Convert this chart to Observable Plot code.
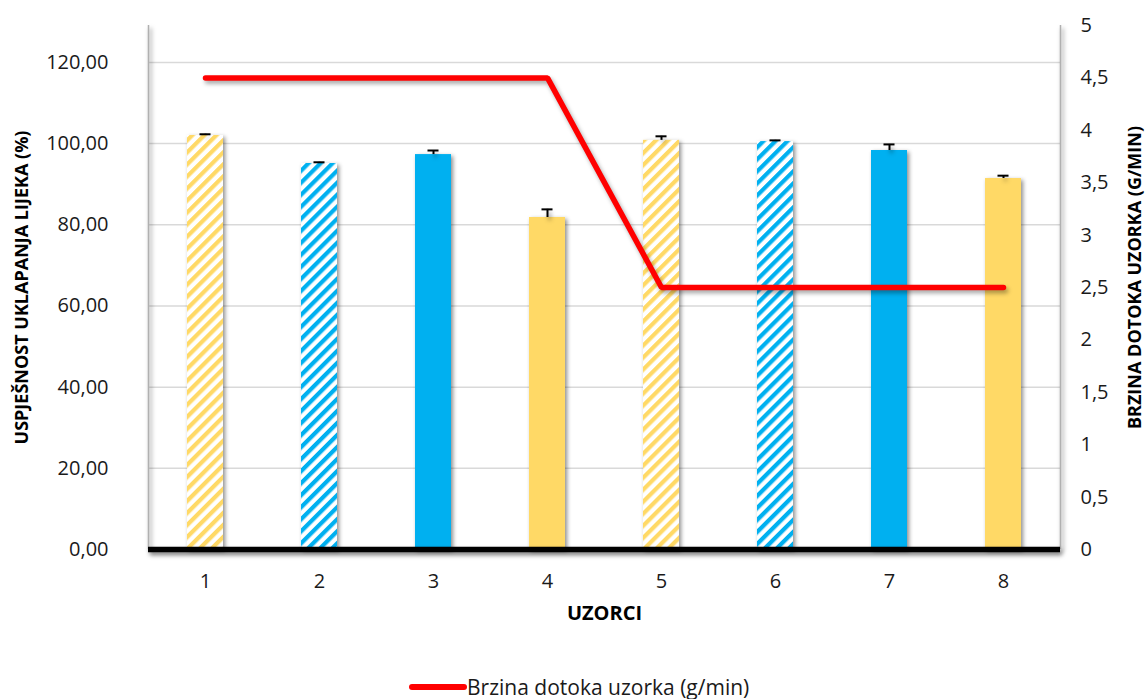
<!DOCTYPE html>
<html>
<head>
<meta charset="utf-8">
<script src="https://cdn.jsdelivr.net/npm/d3@7"></script>
<script src="https://cdn.jsdelivr.net/npm/@observablehq/plot@0.6"></script>
<style>
  body { margin: 0; background: #fff; font-family: "Open Sans", Lato, sans-serif; }
  #wrap { position: relative; width: 1148px; height: 699px; }
  #legend { position: absolute; left: 408px; top: 671px; height: 32px; display: flex; align-items: center; font-size: 21px; color: #1a1a1a; white-space: nowrap; }
</style>
</head>
<body>
<div id="wrap">
  <div id="chart"></div>
  <div id="legend">
    <svg width="59" height="10"><line x1="4" y1="5" x2="56" y2="5" stroke="#ff0000" stroke-width="6" stroke-linecap="round"/></svg>
    <span>Brzina dotoka uzorka (g/min)</span>
  </div>
</div>
<script>
// ---- data ----
const samples = [1, 2, 3, 4, 5, 6, 7, 8];
const encapsulation = [102.0, 95.1, 97.3, 81.8, 100.8, 100.5, 98.3, 91.4];
const errors = [0.3, 0.3, 1.0, 2.0, 1.0, 0.3, 1.5, 0.7];
const flowRate = [4.5, 4.5, 4.5, 4.5, 2.5, 2.5, 2.5, 2.5];
const barStyle = ["hatchYellow", "hatchBlue", "blue", "yellow", "hatchYellow", "hatchBlue", "blue", "yellow"];
const leftTicks = [0, 20, 40, 60, 80, 100, 120];
const rightTicks = [0, 0.5, 1, 1.5, 2, 2.5, 3, 3.5, 4, 4.5, 5];
const leftTitle = "USPJEŠNOST UKLAPANJA LIJEKA (%)";
const rightTitle = "BRZINA DOTOKA UZORKA (G/MIN)";
const xTitle = "UZORCI";

const leftMax = 129.1;
const rightMax = 5;
const K = leftMax / rightMax;

const fillFor = {
  hatchYellow: "url(#hatchYellow)",
  hatchBlue: "url(#hatchBlue)",
  blue: "#00b0f0",
  yellow: "#ffd966"
};

const rows = samples.map((s, i) => ({
  sample: s,
  value: encapsulation[i],
  err: errors[i],
  top: encapsulation[i] + errors[i],
  rate: flowRate[i],
  fill: fillFor[barStyle[i]]
}));

const fmtLeft = d => d.toFixed(2).replace(".", ",");
const fmtRight = d => String(Math.round(d / K * 10) / 10).replace(".", ",");

const plot = Plot.plot({
  width: 1148,
  height: 665,
  marginLeft: 148,
  marginRight: 88,
  marginTop: 25,
  marginBottom: 116,
  style: { fontFamily: "'Open Sans', Lato, sans-serif", fontSize: "20px", color: "#1a1a1a", background: "#fff" },
  x: { type: "band", domain: samples, paddingInner: 0.684, paddingOuter: 0.342, round: false },
  y: { domain: [0, leftMax] },
  color: { type: "identity" },
  marks: [
    Plot.gridY(leftTicks, { stroke: "#d9d9d9", strokeOpacity: 1, strokeWidth: 1.5 }),
    Plot.ruleX([samples[0]], { dx: -57, stroke: "#b0b0b0", strokeWidth: 1.5 }),
    Plot.ruleX([samples[samples.length - 1]], { dx: 57, stroke: "#b0b0b0", strokeWidth: 1.5 }),
    Plot.barY(rows, { x: "sample", y: "value", fill: "fill" }),
    Plot.ruleX(rows, { x: "sample", y1: "value", y2: "top", stroke: "#000", strokeWidth: 2 }),
    Plot.tickY(rows, { x: "sample", y: "top", stroke: "#000", strokeWidth: 2, insetLeft: 12.5, insetRight: 12.5 }),
    Plot.lineY(rows, { x: "sample", y: d => d.rate * K, stroke: "#ff0000", strokeWidth: 5.5, strokeLinejoin: "miter" }),
    Plot.ruleY([0], { stroke: "#000", strokeWidth: 5.5 }),
    Plot.axisY(leftTicks, { anchor: "left", tickSize: 0, tickPadding: 40, tickFormat: fmtLeft, label: null }),
    Plot.axisY(rightTicks.map(v => v * K), { anchor: "right", tickSize: 0, tickPadding: 20, tickFormat: fmtRight, label: null }),
    Plot.axisX({ tickSize: 0, tickPadding: 24, label: null }),
    Plot.text([leftTitle], { frameAnchor: "left", textAnchor: "middle", dx: -126, rotate: -90, fontWeight: "bold", fontSize: 18, fill: "#000" }),
    Plot.text([rightTitle], { frameAnchor: "right", textAnchor: "middle", dx: 75, dy: -10, rotate: -90, fontWeight: "bold", fontSize: 18, fill: "#000" }),
    Plot.text([xTitle], { frameAnchor: "bottom", dy: 70, fontWeight: "bold", fontSize: 20, fill: "#000" })
  ]
});

// hatch patterns
const svg = d3.select(plot);
const defs = svg.insert("defs", ":first-child");
[["hatchYellow", "#ffd966"], ["hatchBlue", "#00b0f0"]].forEach(([id, c]) => {
  const p = defs.append("pattern")
    .attr("id", id)
    .attr("patternUnits", "userSpaceOnUse")
    .attr("width", 8.5).attr("height", 8.5)
    .attr("patternTransform", "rotate(45)");
  p.append("rect").attr("width", 8.5).attr("height", 8.5).attr("fill", "#fff");
  p.append("rect").attr("width", 4.2).attr("height", 8.5).attr("fill", c);
});

svg.selectAll('g[aria-label="bar"]').style("filter", "drop-shadow(2px 2px 2px rgba(0,0,0,0.45))");
svg.selectAll('g[aria-label="line"]').style("filter", "drop-shadow(2px 3px 2px rgba(0,0,0,0.35))");
svg.selectAll('g[aria-label="rule"]').style("filter", "drop-shadow(2px 3px 2px rgba(0,0,0,0.5))");

document.getElementById("chart").appendChild(plot);
</script>
</body>
</html>
